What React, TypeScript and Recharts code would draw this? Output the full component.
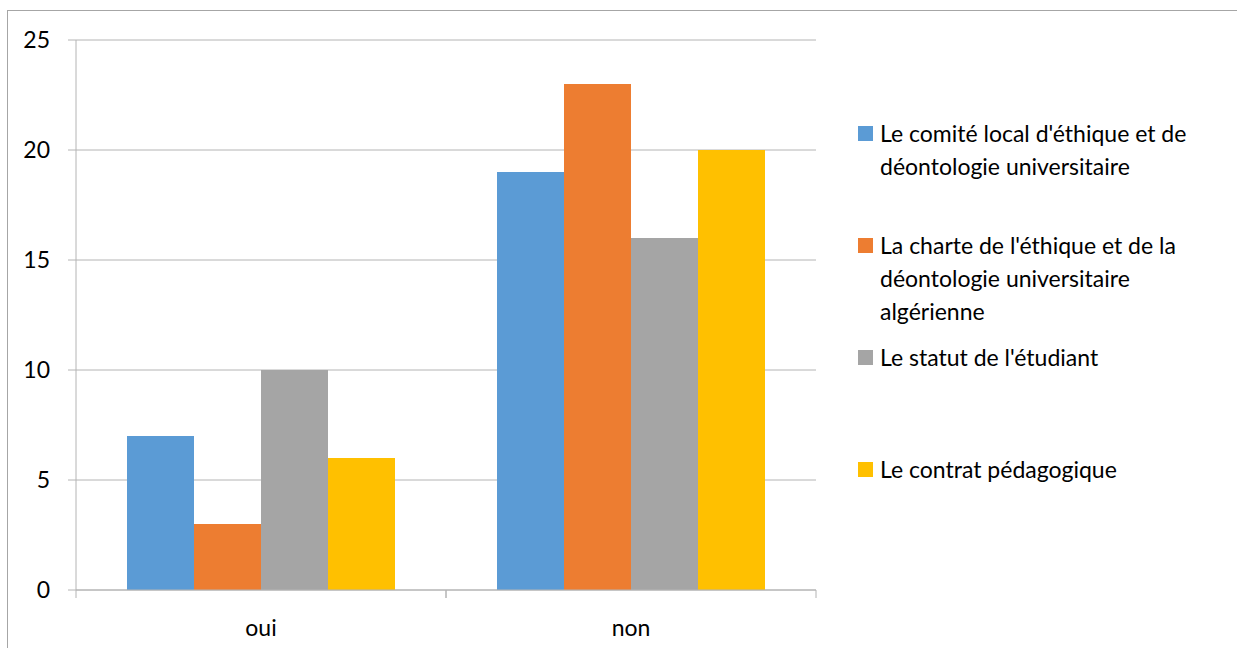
import { BarChart, Bar, XAxis, YAxis, CartesianGrid } from "recharts";

const categories = ["oui", "non"];
const seriesNames = [
  "Le comité local d'éthique et de déontologie universitaire",
  "La charte de l'éthique et de la déontologie universitaire algérienne",
  "Le statut de l'étudiant",
  "Le contrat pédagogique",
];
const comiteLocal = [7, 19];
const charteEthique = [3, 23];
const statutEtudiant = [10, 16];
const contratPedagogique = [6, 20];
const yTicks = [0, 5, 10, 15, 20, 25];

const colors = ["#5b9bd5", "#ed7d31", "#a5a5a5", "#ffc000"];
const keys = ["s0", "s1", "s2", "s3"];
const values = [comiteLocal, charteEthique, statutEtudiant, contratPedagogique];

const data = categories.map((name, i) => ({
  name,
  s0: values[0][i],
  s1: values[1][i],
  s2: values[2][i],
  s3: values[3][i],
}));

const FONT = "Lato, 'Open Sans', sans-serif";
const axisColor = "#b4b4b4";

// category label plus tick marks on the band edges (half band = payload.offset)
function CategoryTick(props: any) {
  const { x, y, payload } = props;
  const half = payload.offset || 0;
  return (
    <g>
      <line x1={x - half} x2={x - half} y1={y} y2={y + 8} stroke={axisColor} />
      <line x1={x + half} x2={x + half} y1={y} y2={y + 8} stroke={axisColor} />
      <text x={x} y={y + 46} textAnchor="middle" fill="#000" fontSize={23} fontFamily={FONT}>
        {payload.value}
      </text>
    </g>
  );
}

export default function App() {
  return (
    <div style={{ position: "absolute", left: 0, top: 0, width: 1237, height: 648, overflow: "hidden", background: "#fff", fontFamily: FONT }}>
      <div style={{ position: "absolute", left: 7, top: 10, width: 1240, height: 650, border: "1px solid #a6a6a6" }} />
      <div style={{ position: "absolute", left: 0, top: 0 }}>
        <BarChart
          width={1237}
          height={648}
          data={data}
          margin={{ top: 40, right: 421, bottom: 0, left: 0 }}
          barCategoryGap={51}
          barGap={0}
        >
          <CartesianGrid horizontal vertical={false} stroke={axisColor} />
          <XAxis
            dataKey="name"
            height={58}
            interval={0}
            tickLine={false}
            tickSize={0}
            tickMargin={0}
            stroke={axisColor}
            tick={<CategoryTick />}
          />
          <YAxis
            width={76}
            domain={[0, 25]}
            ticks={yTicks}
            tickSize={8}
            tickMargin={18}
            stroke={axisColor}
            tick={{ fill: "#000", fontSize: 23, fontFamily: FONT }}
          />
          {keys.map((k, i) => (
            <Bar key={k} dataKey={k} name={seriesNames[i]} fill={colors[i]} isAnimationActive={false} />
          ))}
        </BarChart>
      </div>
      <div style={{ position: "absolute", left: 858, top: 117, width: 370 }}>
        {seriesNames.map((n, i) => (
          <div key={n} style={{ height: 112, display: "flex", alignItems: "flex-start" }}>
            <div style={{ width: 15, height: 15, background: colors[i], marginTop: 9, flex: "none" }} />
            <div style={{ marginLeft: 7, fontSize: 23, lineHeight: "33px", color: "#000", maxWidth: 330 }}>{n}</div>
          </div>
        ))}
      </div>
    </div>
  );
}
